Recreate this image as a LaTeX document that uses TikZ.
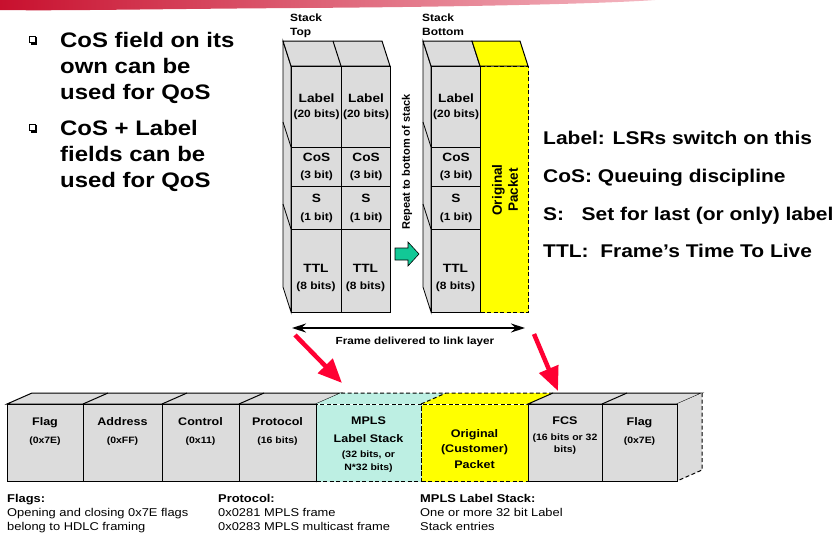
\documentclass[tikz,border=0pt]{standalone}
\usepackage{fontspec}
\setmainfont{Liberation Sans}[FakeStretch=1.14]
\newfontfamily\plainsf{Liberation Sans}
\usetikzlibrary{arrows.meta}
\definecolor{cellgray}{HTML}{DCDCDC}
\definecolor{mint}{HTML}{BDEFE3}
\definecolor{ylw}{HTML}{FFFF00}
\definecolor{grn}{HTML}{12C896}
\definecolor{redarr}{HTML}{FF0033}
\definecolor{bannerdark}{HTML}{C8102E}
\definecolor{bannerlight}{HTML}{F4B8C2}
\newcommand\fsz[2]{\fontsize{#1}{#2}\selectfont}
\tikzset{
  cell/.style={draw, fill=cellgray, line width=1.1pt, inner sep=0pt, anchor=north west, align=center, font=\bfseries\fsz{12}{19}},
  celltxt/.style={align=center, inner sep=0pt, font=\bfseries\fsz{12}{19}},
  face/.style={fill=cellgray, draw, line width=0.8pt},
  fbox/.style={draw, line width=1.1pt, inner sep=0pt, anchor=north west, minimum height=77pt},
  dsh/.style={dash pattern=on 4pt off 2.5pt},
  ftxt/.style={anchor=north, align=center, inner sep=0pt, font=\bfseries\fsz{11}{18}},
  note/.style={anchor=north west, align=left, inner sep=0pt, font=\fsz{11.3}{14}},
  redarrow/.style={redarr, line width=4.5pt, -{Triangle[length=24pt,width=20pt]}},
  bullet/.style={draw, fill=white, line width=0.6pt, inner sep=0pt, minimum size=6.5pt},
}
\begin{document}
\begin{tikzpicture}[x=1pt,y=-1pt]
\useasboundingbox (0,0) rectangle (838,538);
% banner
\shade[left color=bannerdark, right color=bannerlight] (0,0) -- (655,0) .. controls (600,4) and (450,7) .. (300,8) .. controls (150,9) and (60,11) .. (0,10) -- cycle;

% bullets
\fill[black] (30.5,37) rectangle (37,44.5);
\node[bullet] (q1) at (32.5,39.5) {};
\fill[black] (30.5,125) rectangle (37,132.5);
\node[bullet] (q2) at (32.5,127.5) {};
\node[anchor=north west, align=left, inner sep=0pt, font=\bfseries\fsz{21}{26}] (b1) at (60,32) {CoS field on its\\own can be\\used for QoS};
\node[anchor=north west, align=left, inner sep=0pt, font=\bfseries\fsz{21}{26}] (b2) at (60,120) {CoS + Label\\fields can be\\used for QoS};

% stack headers
\node[anchor=north west, align=left, inner sep=0pt, font=\bfseries\fsz{10.5}{14}] (stop) at (290,13.5) {Stack\\Top};
\node[anchor=north west, align=left, inner sep=0pt, font=\bfseries\fsz{10.5}{14}] (sbot) at (422,13.5) {Stack\\Bottom};

% left stack faces
\filldraw[face] (283,41) -- (291,66) -- (291,312) -- (283,287) -- cycle;
\draw[line width=0.8pt] (283,122) -- (291,147) (283,204) -- (291,229);
\filldraw[face, line width=1pt] (283,41) -- (382,41) -- (390,66) -- (291,66) -- cycle;
\draw[line width=1pt] (333,41) -- (341,66);

% right stack faces
\filldraw[face] (423,41) -- (431,66) -- (431,312) -- (423,287) -- cycle;
\draw[line width=0.8pt] (423,122) -- (431,147) (423,204) -- (431,229);
\filldraw[face, line width=1pt] (423,41) -- (472,41) -- (480,66) -- (431,66) -- cycle;
\filldraw[fill=ylw, draw, line width=1pt] (472,41) -- (520,41) -- (528,66) -- (480,66) -- cycle;
\node[fill=ylw, draw, dsh, line width=1.1pt, inner sep=0pt, anchor=north west, minimum width=48pt, minimum height=246pt] (orig) at (480,66) {};
\node[rotate=90, align=center, font=\plainsf\bfseries\fsz{13.5}{16}] (origtxt) at (505,190) {Original\\Packet};

% cells
\foreach \nm/\x/\w in {A/291/50, B/341/49, C/431/49}{
  \node[cell, minimum width=\w pt, minimum height=81pt] (lab\nm) at (\x,66) {Label\\[-4pt]{\fsz{10.5}{12}(20 bits)}};
  \node[cell, minimum width=\w pt, minimum height=39pt] (cos\nm) at (\x,147) {CoS\\[-2pt]{\fsz{10.5}{12}(3 bit)}};
  \node[cell, minimum width=\w pt, minimum height=43pt] (s\nm) at (\x,186) {S\\[-1pt]{\fsz{10.5}{12}(1 bit)}};
  \node[cell, minimum width=\w pt, minimum height=83pt] (ttl\nm) at (\x,229) {};
  \node[celltxt] (ttltxt\nm) at ({\x+\w/2},278) {TTL\\[-2pt]{\fsz{10.5}{12}(8 bits)}};
}

% repeat text and green arrow
\node[rotate=90, font=\plainsf\bfseries\fsz{11}{13}] (rep) at (407,162) {Repeat to bottom of stack};
\filldraw[fill=grn, draw=black, line width=0.6pt] (395,248) -- (408,248) -- (408,242) -- (419,254) -- (408,266) -- (408,260) -- (395,260) -- cycle;

% right legend
\node[anchor=north west, align=left, inner sep=0pt, font=\bfseries\fsz{18.4}{37.8}] (legend) at (543,131) {Label: LSRs switch on this\\CoS: Queuing discipline\\S:\ \ \ Set for last (or only) label\\TTL:\ \ Frame’s Time To Live};

% frame delivered arrow
\coordinate (fa) at (292,328);
\coordinate (fb) at (525,328);
\draw[{Stealth[length=14pt,width=9pt]}-{Stealth[length=14pt,width=9pt]}, line width=1.2pt] (fa) -- (fb);
\node[font=\bfseries\fsz{10.3}{12}] (fdl) at (415,342) {Frame delivered to link layer};

% bottom frame top faces
\filldraw[face, line width=1pt] (7,404) -- (32,393) -- (341,393) -- (316,404) -- cycle;
\draw[line width=1pt] (83,404) -- (108,393) (162,404) -- (187,393) (239,404) -- (264,393);
\fill[mint] (316,404) -- (341,393) -- (446,393) -- (421,404) -- cycle;
\fill[ylw] (421,404) -- (446,393) -- (553,393) -- (528,404) -- cycle;
\draw[dsh, line width=1pt] (341,393) -- (553,393) (421,404) -- (446,393);
\filldraw[face, line width=1pt] (528,404) -- (553,393) -- (702,393) -- (677,404) -- cycle;
\draw[line width=1pt] (602,404) -- (627,393);
\fill[cellgray] (677,404) -- (702,393) -- (702,470) -- (677,481) -- cycle;
\draw[dsh, line width=1pt] (702,393) -- (702,470) -- (677,481);

% bottom frame front boxes
\node[fbox, fill=cellgray, minimum width=76pt] (fl1) at (7,404) {};
\node[fbox, fill=cellgray, minimum width=79pt] (addr) at (83,404) {};
\node[fbox, fill=cellgray, minimum width=77pt] (ctrl) at (162,404) {};
\node[fbox, fill=cellgray, minimum width=77pt] (prot) at (239,404) {};
\node[fbox, fill=mint, dsh, minimum width=105pt] (mpls) at (316,404) {};
\node[fbox, fill=ylw, dsh, minimum width=107pt] (cust) at (421,404) {};
\node[fbox, fill=cellgray, minimum width=74pt] (fcs) at (528,404) {};
\node[fbox, fill=cellgray, minimum width=75pt] (fl2) at (602,404) {};

\node[ftxt] (t1) at (45,417) {Flag\\{\fsz{9.2}{11}(0x7E)}};
\node[ftxt] (t2) at (122.5,417) {Address\\{\fsz{9.2}{11}(0xFF)}};
\node[ftxt] (t3) at (200.5,417) {Control\\{\fsz{9.2}{11}(0x11)}};
\node[ftxt] (t4) at (277.5,417) {Protocol\\{\fsz{9.2}{11}(16 bits)}};
\node[ftxt] (t5) at (368.5,417) {MPLS\\Label Stack\\[-3pt]{\fsz{9.2}{11}(32 bits, or}\\[-5pt]{\fsz{9.2}{11}N*32 bits)}};
\node[ftxt, font=\bfseries\fsz{11}{15.5}] (t6) at (474.5,429) {Original\\(Customer)\\Packet};
\node[ftxt, font=\bfseries\fsz{11}{15}] (t7) at (565,417) {FCS\\[1pt]{\fsz{9.2}{11}(16 bits or 32}\\[-3pt]{\fsz{9.2}{11}bits)}};
\node[ftxt] (t8) at (639.5,417) {Flag\\{\fsz{9.2}{11}(0x7E)}};

% red arrows
\coordinate (r1s) at (295,335);
\coordinate (r1e) at (342,383);
\coordinate (r2s) at (534,334);
\coordinate (r2e) at (558,391);
\draw[redarrow] (r1s) -- (r1e);
\draw[redarrow] (r2s) -- (r2e);

% notes
\node[note] (n1) at (7,494) {{\bfseries Flags:}\\Opening and closing 0x7E flags\\belong to HDLC framing};
\node[note] (n2) at (218,494) {{\bfseries Protocol:}\\0x0281 MPLS frame\\0x0283 MPLS multicast frame};
\node[note] (n3) at (420,494) {{\bfseries MPLS Label Stack:}\\One or more 32 bit Label\\Stack entries};
\end{tikzpicture}
\end{document}
